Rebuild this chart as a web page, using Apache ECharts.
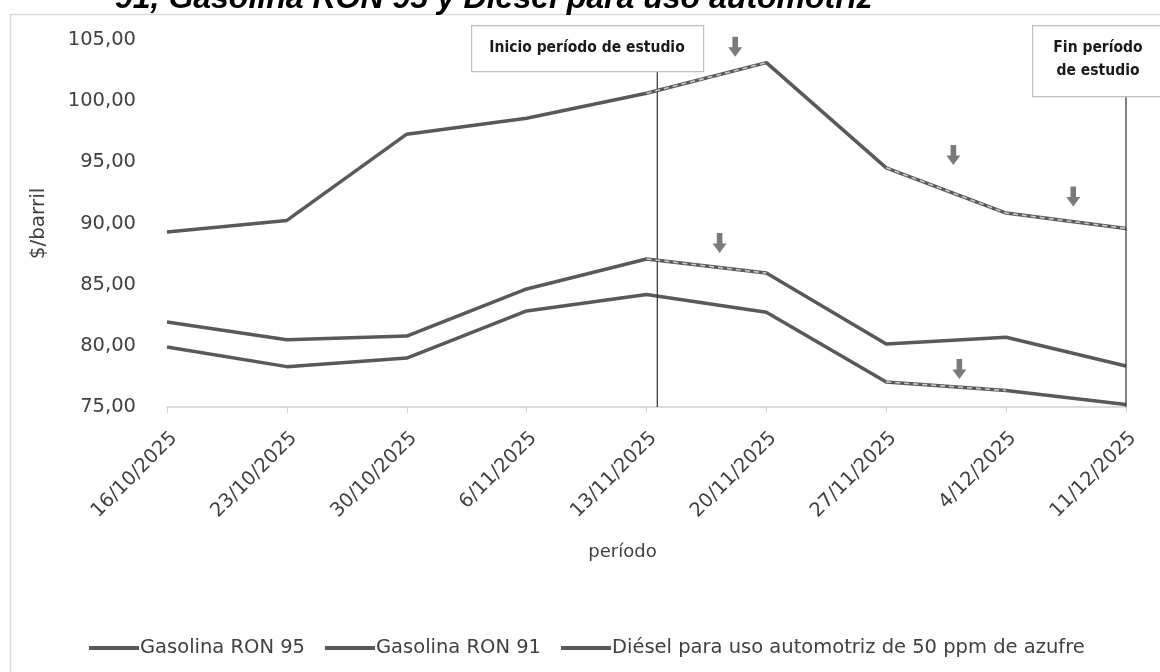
<!DOCTYPE html>
<html>
<head>
<meta charset="utf-8">
<script src="https://cdn.jsdelivr.net/npm/echarts@6/dist/echarts.min.js"></script>
<style>
html,body{margin:0;padding:0;background:#fff;}
#chart{width:1160px;height:672px;}
</style>
</head>
<body>
<div id="chart"></div>
<script>
// ---- data ----
const categories = ['16/10/2025','23/10/2025','30/10/2025','6/11/2025','13/11/2025','20/11/2025','27/11/2025','4/12/2025','11/12/2025'];
const ron95  = [81.95, 80.5, 80.8, 84.65, 87.1, 85.95, 80.15, 80.7, 78.35];
const ron91  = [79.9, 78.3, 79.0, 82.85, 84.2, 82.75, 77.05, 76.35, 75.2];
const diesel = [89.3, 90.25, 97.3, 98.6, 100.65, 103.15, 94.55, 90.85, 89.6];
const seriesNames = ['Gasolina RON 95', 'Gasolina RON 91', 'Diésel para uso automotriz de 50 ppm de azufre'];
const yTicks = [75, 80, 85, 90, 95, 100, 105];
// highlighted (dashed) stretches: [first index, last index]
const hlRon95 = [[4, 5]];
const hlRon91 = [[6, 7]];
const hlDiesel = [[4, 5], [6, 8]];
// down arrows: [category position, value]
const arrows = [[4.74, 104.45], [6.56, 95.6], [7.56, 92.2], [4.61, 88.4], [6.61, 78.1]];
// study period markers: [category position, top value]
const startMarker = [4.09, 102.45];
const endMarker = [8.0, 100.4];
const titleText = '91, Gasolina RON 95 y Diésel para uso automotriz';
const startLabel = 'Inicio período de estudio';
const endLabel = 'Fin período\nde estudio';

const dark = '#595959';
const textColor = '#404040';

function hlSeries(values, ranges) {
  return ranges.map(r => ({
    type: 'line', xAxisIndex: 0, yAxisIndex: 0, silent: true, symbol: 'none', z: 5,
    data: values.map((v, i) => (i >= r[0] && i <= r[1]) ? v : '-'),
    lineStyle: { color: '#c9c9c9', width: 1.6, type: [5, 4] }
  }));
}

const chart = echarts.init(document.getElementById('chart'), null, { renderer: 'canvas' });
const font = "'DejaVu Sans', sans-serif";
const option = {
  backgroundColor: '#fff',
  animation: false,
  grid: { left: 167, right: 34, top: 40, bottom: 265, containLabel: false },
  xAxis: [{
    type: 'category', data: categories, boundaryGap: false,
    name: 'período', nameLocation: 'middle', nameGap: 136,
    nameTextStyle: { fontFamily: font, fontSize: 18, color: textColor, padding: [0, 48, 0, 0] },
    axisLine: { lineStyle: { color: '#d0d0d0', width: 1.5 } },
    axisTick: { show: true, length: 6, lineStyle: { color: '#d0d0d0' } },
    axisLabel: { rotate: 45, margin: 21, verticalAlign: 'top', fontFamily: font, fontSize: 19.5, color: textColor },
    splitLine: { show: false }
  }, {
    type: 'value', min: 0, max: 8, show: false
  }],
  yAxis: {
    type: 'value', min: yTicks[0], max: yTicks[yTicks.length - 1], interval: 5,
    name: '$/barril', nameLocation: 'middle', nameGap: 118,
    nameTextStyle: { fontFamily: font, fontSize: 20, color: textColor },
    axisLine: { show: false }, axisTick: { show: false },
    axisLabel: { margin: 31, fontFamily: font, fontSize: 19.5, color: textColor,
      formatter: v => v.toFixed(2).replace('.', ',') },
    splitLine: { show: false }
  },
  legend: {
    data: seriesNames, left: 84, top: 633, itemWidth: 50, itemHeight: 4, itemGap: 20,
    icon: 'rect',
    textStyle: { fontFamily: font, fontSize: 19.5, color: textColor, padding: [0, 0, 0, -4] }
  },
  series: [
    { name: seriesNames[0], type: 'line', data: ron95, symbol: 'none', color: dark, z: 3,
      lineStyle: { color: dark, width: 3.5 } },
    { name: seriesNames[1], type: 'line', data: ron91, symbol: 'none', color: dark, z: 3,
      lineStyle: { color: dark, width: 3.5 } },
    { name: seriesNames[2], type: 'line', data: diesel, symbol: 'none', color: dark, z: 3,
      lineStyle: { color: dark, width: 3.5 } },
    ...hlSeries(ron95, hlRon95),
    ...hlSeries(ron91, hlRon91),
    ...hlSeries(diesel, hlDiesel),
    { type: 'scatter', xAxisIndex: 1, silent: true, data: arrows, z: 6,
      symbol: 'path://M4.5,0 L10.5,0 L10.5,11 L15,11 L7.5,21 L0,11 L4.5,11 Z', symbolSize: [14, 20],
      itemStyle: { color: dark } },
    { type: 'line', xAxisIndex: 1, silent: true, symbol: 'none', z: 4,
      data: [[startMarker[0], yTicks[0]], startMarker], lineStyle: { color: '#303030', width: 1.2 } },
    { type: 'line', xAxisIndex: 1, silent: true, symbol: 'none', z: 4,
      data: [[endMarker[0], yTicks[0]], endMarker], lineStyle: { color: '#303030', width: 1.2 } }
  ],
  graphic: [
    { type: 'rect', left: 8, top: 12, z: -1, silent: true,
      shape: { width: 1200, height: 700 }, style: { fill: 'none', stroke: '#d9d9d9', lineWidth: 1.5 } },
    { type: 'text', left: 115, top: -17, silent: true,
      style: { text: titleText, font: 'italic bold 32px "Liberation Sans", Arial, sans-serif', fill: '#000' } },
    { type: 'rect', left: 471, top: 25, z: 10, silent: true,
      shape: { width: 232, height: 46 }, style: { fill: '#fff', stroke: '#bfbfbf', lineWidth: 1.2 } },
    { type: 'text', x: 587, y: 48, silent: true, z: 11,
      style: { text: startLabel, font: "bold 15.5px 'Liberation Sans Narrow','DejaVu Sans Condensed',sans-serif",
        fill: '#1a1a1a', align: 'center', verticalAlign: 'middle' } },
    { type: 'rect', left: 1032, top: 25, z: 10, silent: true,
      shape: { width: 140, height: 71 }, style: { fill: '#fff', stroke: '#bfbfbf', lineWidth: 1.2 } },
    { type: 'text', x: 1098, y: 59, z: 11, silent: true,
      style: { text: endLabel, font: "bold 15.5px 'Liberation Sans Narrow','DejaVu Sans Condensed',sans-serif",
        fill: '#1a1a1a', align: 'center', verticalAlign: 'middle', lineHeight: 23 } }
  ]
};
chart.setOption(option);
</script>
</body>
</html>
